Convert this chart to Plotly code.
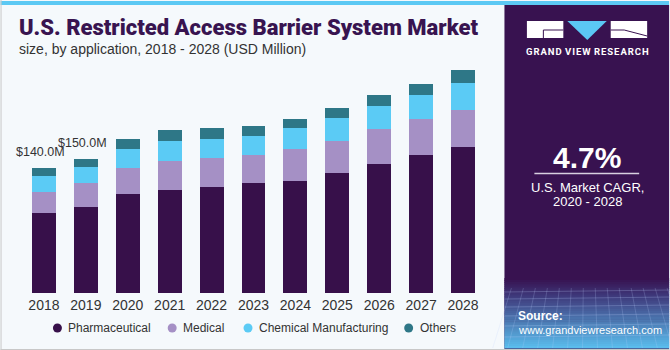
import plotly.graph_objects as go

# ---------------- data ----------------
years = ["2018", "2019", "2020", "2021", "2022", "2023", "2024", "2025", "2026", "2027", "2028"]
pharmaceutical = [89.5, 96.3, 111.2, 115.3, 118.7, 122.8, 125.9, 134.4, 144.5, 154.2, 163.5]
medical = [23.8, 26.9, 29.1, 32.8, 32.8, 31.4, 35.4, 35.8, 38.9, 40.3, 41.4]
chemical = [18.2, 17.9, 21.3, 22.4, 20.6, 22.0, 23.2, 25.8, 26.1, 27.7, 30.2]
others = [8.5, 8.9, 11.2, 12.0, 12.7, 11.2, 10.1, 11.6, 12.0, 12.3, 14.2]
series_names = ["Pharmaceutical", "Medical", "Chemical Manufacturing", "Others"]
series_colors = ["#37104a", "#a590c5", "#5bcbf5", "#2e7787"]
value_labels = {"2018": "$140.0M", "2019": "$150.0M"}
label_totals = {"2018": 140.0, "2019": 150.0}

W, H = 670, 350
L, R, T, B = 22.5, 185.5, 60, 57
PW, PH = W - L - R, H - T - B


def px(x):
    return (x - L) / PW


def py(y):
    return (H - B - y) / PH


fig = go.Figure()
for name, vals, col in zip(series_names, [pharmaceutical, medical, chemical, others], series_colors):
    fig.add_trace(go.Bar(x=years, y=vals, name=name, marker=dict(color=col, line=dict(width=0)),
                         width=0.57, showlegend=False, hoverinfo="skip"))

shapes = []
ann = []

# top blue strip
shapes.append(dict(type="rect", xref="paper", yref="paper", x0=px(0), x1=px(W), y0=py(1), y1=py(5),
                   fillcolor="#5cc9f4", line=dict(width=0), layer="above"))
# left/bottom border
shapes.append(dict(type="line", xref="paper", yref="paper", x0=px(0.5), x1=px(0.5), y0=py(0), y1=py(350),
                   line=dict(color="#c8c8c8", width=1)))
shapes.append(dict(type="line", xref="paper", yref="paper", x0=px(0), x1=px(670), y0=py(349.5), y1=py(349.5),
                   line=dict(color="#c8c8c8", width=1)))
# right panel
shapes.append(dict(type="rect", xref="paper", yref="paper", x0=px(505), x1=px(670), y0=py(5), y1=py(350),
                   fillcolor="#381250", line=dict(width=0), layer="below"))
# gradient at bottom of panel
c0 = (0x38, 0x12, 0x50)
c1 = (0x3f, 0x3a, 0x7c)
c2 = (0x5a, 0xbc, 0xec)
n = 34
y_start, y_end = 278, 348
for i in range(n):
    t = i / (n - 1)
    if t < 0.25:
        u = t / 0.25
        c = tuple(int(c0[k] + (c1[k] - c0[k]) * u) for k in range(3))
    else:
        u = (t - 0.25) / 0.75
        c = tuple(int(c1[k] + (c2[k] - c1[k]) * u) for k in range(3))
    ya = y_start + (y_end - y_start) * i / n
    yb = y_start + (y_end - y_start) * (i + 1) / n + 0.6
    shapes.append(dict(type="rect", xref="paper", yref="paper", x0=px(505), x1=px(670), y0=py(ya), y1=py(yb),
                       fillcolor="rgb(%d,%d,%d)" % c, line=dict(width=0), layer="below"))
# faint grid lines in gradient
for gy in [292, 299, 307, 316, 326, 337]:
    shapes.append(dict(type="line", xref="paper", yref="paper", x0=px(505), x1=px(670), y0=py(gy), y1=py(gy - 2),
                       line=dict(color="rgba(190,210,255,0.25)", width=1)))
for gx in range(512, 670, 12):
    shapes.append(dict(type="line", xref="paper", yref="paper", x0=px(gx), x1=px(gx + (gx - 587) * 0.25),
                       y0=py(288), y1=py(348), line=dict(color="rgba(190,210,255,0.2)", width=1)))

# logo
shapes.append(dict(type="rect", xref="paper", yref="paper", x0=px(527.5), x1=px(564), y0=py(21), y1=py(38),
                   fillcolor="white", line=dict(width=0)))
shapes.append(dict(type="path", xref="paper", yref="paper",
                   path="M %f,%f L %f,%f L %f,%f Z" % (px(568), py(21), px(607.5), py(21), px(588), py(40)),
                   fillcolor="#5bc8f5", line=dict(width=0)))
shapes.append(dict(type="rect", xref="paper", yref="paper", x0=px(611.5), x1=px(648), y0=py(21), y1=py(38),
                   fillcolor="white", line=dict(width=0)))
shapes.append(dict(type="path", xref="paper", yref="paper",
                   path="M %f,%f L %f,%f L %f,%f" % (px(544), py(38), px(544), py(30), px(564), py(30)),
                   line=dict(color="#381250", width=1)))
shapes.append(dict(type="path", xref="paper", yref="paper",
                   path="M %f,%f L %f,%f L %f,%f" % (px(611.5), py(30), px(625), py(30), px(648), py(36)),
                   line=dict(color="#381250", width=1)))
ann.append(dict(text="<b>G R A N D   V I E W   R E S E A R C H</b>".replace(" ", "\u200a").replace("\u200a\u200a\u200a", " \u200a"),
                x=px(588), y=py(51.5), xref="paper", yref="paper",
                xanchor="center", yanchor="middle", showarrow=False,
                font=dict(family="Roboto", size=9.5, color="white")))

# CAGR
ann.append(dict(text="<b>4.7%</b>", x=px(588), y=py(157), xref="paper", yref="paper",
                xanchor="center", yanchor="middle", showarrow=False,
                font=dict(family="Liberation Sans", size=30, color="white")))
shapes.append(dict(type="line", xref="paper", yref="paper", x0=px(535), x1=px(640), y0=py(173.5), y1=py(173.5),
                   line=dict(color="#d8d0e0", width=1.5)))
ann.append(dict(text="U.S. Market CAGR,", x=px(588), y=py(187), xref="paper", yref="paper",
                xanchor="center", yanchor="middle", showarrow=False,
                font=dict(family="Liberation Sans", size=13, color="white")))
ann.append(dict(text="2020 - 2028", x=px(588), y=py(201), xref="paper", yref="paper",
                xanchor="center", yanchor="middle", showarrow=False,
                font=dict(family="Liberation Sans", size=13, color="white")))
ann.append(dict(text="<b>Source:</b>", x=px(517), y=py(316), xref="paper", yref="paper",
                xanchor="left", yanchor="middle", showarrow=False,
                font=dict(family="Liberation Sans", size=12, color="white")))
ann.append(dict(text="www.grandviewresearch.com", x=px(517), y=py(330), xref="paper", yref="paper",
                xanchor="left", yanchor="middle", showarrow=False,
                font=dict(family="Liberation Sans", size=11, color="white")))

# title
ann.append(dict(text="U.S. Restricted Access Barrier System Market", x=px(16), y=py(28), xref="paper", yref="paper",
                xanchor="left", yanchor="middle", showarrow=False,
                font=dict(family="Roboto", size=22, color="#381450", weight=900)))
ann.append(dict(text="size, by application, 2018 - 2028 (USD Million)", x=px(16), y=py(48.5), xref="paper",
                yref="paper", xanchor="left", yanchor="middle", showarrow=False,
                font=dict(family="Liberation Sans", size=14, color="#333333")))

# value labels
for yr, txt in value_labels.items():
    ann.append(dict(text=txt, x=years.index(yr), y=label_totals[yr], xref="x", yref="y", xanchor="center",
                    yanchor="bottom", yshift=7, xshift=-3, showarrow=False,
                    font=dict(family="Liberation Sans", size=12.5, color="#333333")))

# legend (circles + text)
leg_marker_x = [57, 172, 248, 409]
for name, col, mx in zip(series_names, series_colors, leg_marker_x):
    shapes.append(dict(type="circle", xref="paper", yref="paper", x0=px(mx - 4.5), x1=px(mx + 4.5),
                       y0=py(328 - 4.5), y1=py(328 + 4.5), fillcolor=col, line=dict(width=0)))
    ann.append(dict(text=name, x=px(mx + 9), y=py(328), xref="paper", yref="paper", xanchor="left",
                    yanchor="middle", showarrow=False,
                    font=dict(family="Liberation Sans", size=12, color="#333333")))

fig.update_layout(
    barmode="stack",
    width=W, height=H,
    margin=dict(l=L, r=R, t=T, b=B, pad=0, autoexpand=False),
    paper_bgcolor="#f5f9fc",
    plot_bgcolor="rgba(0,0,0,0)",
    bargap=0.43,
    xaxis=dict(type="category", range=[-0.5, 10.5], showgrid=False, zeroline=False, showline=False,
               ticks="", tickfont=dict(family="Liberation Sans", size=14, color="#333333"), ticklabelstandoff=2),
    yaxis=dict(range=[0, 261], visible=False, showgrid=False, zeroline=False),
    shapes=shapes,
    annotations=ann,
    showlegend=False,
)

fig.write_html("out.html")
